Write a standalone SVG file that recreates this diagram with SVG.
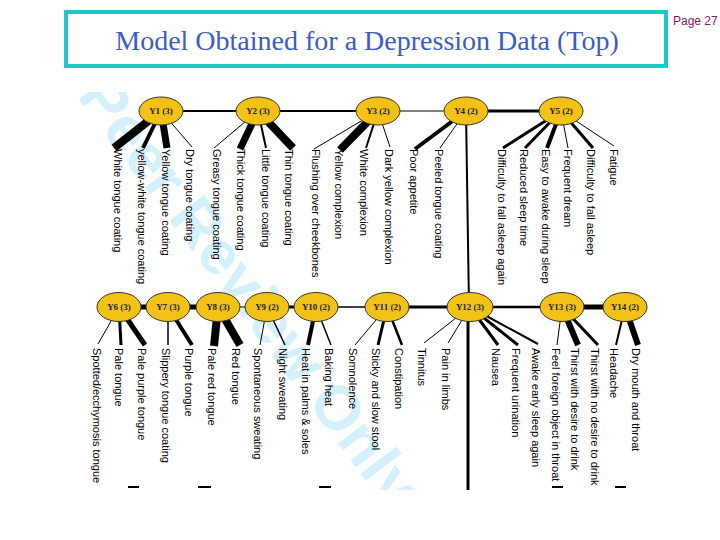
<svg xmlns="http://www.w3.org/2000/svg" width="720" height="540" viewBox="0 0 720 540">
<style>
.title{font-family:"Liberation Serif","Times New Roman","DejaVu Serif",serif;font-size:28px;fill:#3b5cc4}
.page{font-family:"Liberation Sans",Arial,sans-serif;font-size:12px;fill:#8b1a6b}
.node ellipse{fill:#f2c316;stroke:#333;stroke-width:1}
.node text{font-family:"Liberation Serif","Times New Roman","DejaVu Serif",serif;font-weight:bold;font-size:9px;fill:#222;text-anchor:middle}
.lbl{font-family:"Liberation Sans",Arial,sans-serif;font-size:11px;fill:#000}
.e{stroke:#000;fill:none;stroke-linecap:butt}
.wm{font-family:"Liberation Sans",Arial,sans-serif;font-weight:bold;font-size:62px;fill:#d3f0fc}
</style>
<defs>
<clipPath id="clip"><rect x="80" y="92" width="570" height="398"/></clipPath>
</defs>
<rect width="720" height="540" fill="#fff"/>
<rect x="66" y="12" width="600" height="54" fill="#fff" stroke="#1ec8c8" stroke-width="4"/>
<text class="title" x="367" y="50" text-anchor="middle">Model Obtained for a Depression Data (Top)</text>
<text class="page" x="673" y="25">Page 27</text>

<g clip-path="url(#clip)">
<text class="wm" transform="translate(76,96) rotate(53)">Peer Review Only</text>
</g>

<g id="connectors">
<line class="e" x1="161" y1="111" x2="258" y2="111" stroke-width="2"/>
<line class="e" x1="258" y1="111" x2="378" y2="111" stroke-width="2"/>
<line class="e" x1="378" y1="111" x2="466" y2="111" stroke-width="1"/>
<line class="e" x1="466" y1="111" x2="561" y2="111" stroke-width="3"/>
<line class="e" x1="466" y1="111" x2="469" y2="307" stroke-width="2"/>
<line class="e" x1="119" y1="307" x2="168" y2="307" stroke-width="5"/>
<line class="e" x1="168" y1="307" x2="218" y2="307" stroke-width="5"/>
<line class="e" x1="218" y1="307" x2="267" y2="307" stroke-width="1"/>
<line class="e" x1="267" y1="307" x2="316" y2="307" stroke-width="3"/>
<line class="e" x1="316" y1="307" x2="387" y2="307" stroke-width="1.5"/>
<line class="e" x1="387" y1="307" x2="470" y2="307" stroke-width="3"/>
<line class="e" x1="470" y1="307" x2="562" y2="307" stroke-width="2.5"/>
<line class="e" x1="562" y1="307" x2="625" y2="307" stroke-width="5"/>
<line class="e" x1="468" y1="307" x2="468" y2="490" stroke-width="3"/>
<line class="e" x1="128" y1="487" x2="139" y2="487" stroke-width="2"/>
<line class="e" x1="198" y1="487" x2="211" y2="487" stroke-width="2"/>
<line class="e" x1="319" y1="487" x2="331" y2="487" stroke-width="2"/>
<line class="e" x1="552" y1="487" x2="563" y2="487" stroke-width="2"/>
<line class="e" x1="615" y1="487" x2="626" y2="487" stroke-width="2"/>
<line class="e" x1="161" y1="111" x2="114" y2="148" stroke-width="8"/>
<line class="e" x1="161" y1="111" x2="143" y2="148" stroke-width="4"/>
<line class="e" x1="161" y1="111" x2="167" y2="148" stroke-width="7"/>
<line class="e" x1="161" y1="111" x2="192" y2="147" stroke-width="1"/>
<line class="e" x1="258" y1="111" x2="214" y2="148" stroke-width="1"/>
<line class="e" x1="258" y1="111" x2="240" y2="149" stroke-width="7"/>
<line class="e" x1="258" y1="111" x2="266" y2="148" stroke-width="2"/>
<line class="e" x1="258" y1="111" x2="293" y2="148" stroke-width="8"/>
<line class="e" x1="378" y1="111" x2="314" y2="149" stroke-width="1"/>
<line class="e" x1="378" y1="111" x2="340" y2="150" stroke-width="8"/>
<line class="e" x1="378" y1="111" x2="366" y2="148" stroke-width="2"/>
<line class="e" x1="378" y1="111" x2="390" y2="147" stroke-width="1"/>
<line class="e" x1="466" y1="111" x2="415" y2="149" stroke-width="4"/>
<line class="e" x1="466" y1="111" x2="440" y2="148" stroke-width="1"/>
<line class="e" x1="561" y1="111" x2="503" y2="148" stroke-width="3"/>
<line class="e" x1="561" y1="111" x2="525" y2="148" stroke-width="3"/>
<line class="e" x1="561" y1="111" x2="547" y2="148" stroke-width="4"/>
<line class="e" x1="561" y1="111" x2="568" y2="148" stroke-width="1"/>
<line class="e" x1="561" y1="111" x2="593" y2="148" stroke-width="3"/>
<line class="e" x1="561" y1="111" x2="614" y2="146" stroke-width="1"/>
<line class="e" x1="119" y1="307" x2="98" y2="344" stroke-width="1"/>
<line class="e" x1="119" y1="307" x2="121" y2="345" stroke-width="3"/>
<line class="e" x1="119" y1="307" x2="145" y2="345" stroke-width="5"/>
<line class="e" x1="168" y1="307" x2="168" y2="345" stroke-width="1.5"/>
<line class="e" x1="168" y1="307" x2="192" y2="345" stroke-width="4"/>
<line class="e" x1="218" y1="307" x2="214" y2="346" stroke-width="8"/>
<line class="e" x1="218" y1="307" x2="240" y2="345" stroke-width="8"/>
<line class="e" x1="267" y1="307" x2="260" y2="345" stroke-width="1"/>
<line class="e" x1="267" y1="307" x2="285" y2="345" stroke-width="1.5"/>
<line class="e" x1="316" y1="307" x2="308" y2="345" stroke-width="4"/>
<line class="e" x1="316" y1="307" x2="331" y2="345" stroke-width="1.5"/>
<line class="e" x1="387" y1="307" x2="355" y2="345" stroke-width="1"/>
<line class="e" x1="387" y1="307" x2="378" y2="345" stroke-width="3"/>
<line class="e" x1="387" y1="307" x2="402" y2="345" stroke-width="2.5"/>
<line class="e" x1="470" y1="307" x2="424" y2="343" stroke-width="1"/>
<line class="e" x1="470" y1="307" x2="448" y2="343" stroke-width="1"/>
<line class="e" x1="470" y1="307" x2="498" y2="345" stroke-width="3"/>
<line class="e" x1="470" y1="307" x2="518" y2="345" stroke-width="3"/>
<line class="e" x1="470" y1="307" x2="538" y2="344" stroke-width="2"/>
<line class="e" x1="562" y1="307" x2="557" y2="345" stroke-width="1"/>
<line class="e" x1="562" y1="307" x2="578" y2="345" stroke-width="6"/>
<line class="e" x1="562" y1="307" x2="598" y2="345" stroke-width="3"/>
<line class="e" x1="625" y1="307" x2="616" y2="345" stroke-width="2"/>
<line class="e" x1="625" y1="307" x2="638" y2="345" stroke-width="6"/>
</g>

<g id="labels">
<text class="lbl" transform="translate(114,149) rotate(90)">White tongue coating</text>
<text class="lbl" transform="translate(138,149) rotate(90)">yellow-white tongue coating</text>
<text class="lbl" transform="translate(162,149) rotate(90)">Yellow tongue coating</text>
<text class="lbl" transform="translate(186,149) rotate(90)">Dry tongue coating</text>
<text class="lbl" transform="translate(213,149) rotate(90)">Greasy tongue coating</text>
<text class="lbl" transform="translate(237,149) rotate(90)">Thick tongue coating</text>
<text class="lbl" transform="translate(262,149) rotate(90)">Little tongue coating</text>
<text class="lbl" transform="translate(285,149) rotate(90)">Thin tongue coating</text>
<text class="lbl" transform="translate(312,149) rotate(90)">Flushing over cheekbones</text>
<text class="lbl" transform="translate(335,149) rotate(90)">Yellow complexion</text>
<text class="lbl" transform="translate(360,149) rotate(90)">White complexion</text>
<text class="lbl" transform="translate(385,149) rotate(90)">Dark yellow complexion</text>
<text class="lbl" transform="translate(410,149) rotate(90)">Poor appetite</text>
<text class="lbl" transform="translate(435,149) rotate(90)">Peeled tongue coating</text>
<text class="lbl" transform="translate(498,149) rotate(90)">Difficulty to fall asleep again</text>
<text class="lbl" transform="translate(520,149) rotate(90)">Reduced sleep time</text>
<text class="lbl" transform="translate(542,149) rotate(90)">Easy to awake during sleep</text>
<text class="lbl" transform="translate(564,149) rotate(90)">Frequent dream</text>
<text class="lbl" transform="translate(587,149) rotate(90)">Difficulty to fall asleep</text>
<text class="lbl" transform="translate(610,149) rotate(90)">Fatigue</text>
<text class="lbl" transform="translate(93,348) rotate(90)">Spotted/ecchymosis tongue</text>
<text class="lbl" transform="translate(115,348) rotate(90)">Pale tongue</text>
<text class="lbl" transform="translate(138,348) rotate(90)">Pale purple tongue</text>
<text class="lbl" transform="translate(162,348) rotate(90)">Slippery tongue coating</text>
<text class="lbl" transform="translate(185,348) rotate(90)">Purple tongue</text>
<text class="lbl" transform="translate(208,348) rotate(90)">Pale red tongue</text>
<text class="lbl" transform="translate(232,348) rotate(90)">Red tongue</text>
<text class="lbl" transform="translate(254,348) rotate(90)">Spontaneous sweating</text>
<text class="lbl" transform="translate(279,348) rotate(90)">Night sweating</text>
<text class="lbl" transform="translate(302,348) rotate(90)">Heat in palms &amp; soles</text>
<text class="lbl" transform="translate(325,348) rotate(90)">Baking heat</text>
<text class="lbl" transform="translate(349,348) rotate(90)">Somnolence</text>
<text class="lbl" transform="translate(372,348) rotate(90)">Sticky and slow stool</text>
<text class="lbl" transform="translate(395,348) rotate(90)">Constipation</text>
<text class="lbl" transform="translate(418,348) rotate(90)">Tinnitus</text>
<text class="lbl" transform="translate(442,348) rotate(90)">Pain in limbs</text>
<text class="lbl" transform="translate(492,348) rotate(90)">Nausea</text>
<text class="lbl" transform="translate(512,348) rotate(90)">Frequent urination</text>
<text class="lbl" transform="translate(532,348) rotate(90)">Awake early sleep again</text>
<text class="lbl" transform="translate(552,348) rotate(90)">Feel foreign object in throat</text>
<text class="lbl" transform="translate(571,348) rotate(90)">Thirst with desire to drink</text>
<text class="lbl" transform="translate(591,348) rotate(90)">Thirst with no desire to drink</text>
<text class="lbl" transform="translate(610,348) rotate(90)">Headache</text>
<text class="lbl" transform="translate(632,348) rotate(90)">Dry mouth and throat</text>
</g>

<g id="Y1" class="node"><ellipse cx="161" cy="111" rx="22" ry="14"/><text x="161" y="114">Y1 (3)</text></g>
<g id="Y2" class="node"><ellipse cx="258" cy="111" rx="22" ry="14"/><text x="258" y="114">Y2 (3)</text></g>
<g id="Y3" class="node"><ellipse cx="378" cy="111" rx="22" ry="14"/><text x="378" y="114">Y3 (2)</text></g>
<g id="Y4" class="node"><ellipse cx="466" cy="111" rx="22" ry="14"/><text x="466" y="114">Y4 (2)</text></g>
<g id="Y5" class="node"><ellipse cx="561" cy="111" rx="22" ry="14"/><text x="561" y="114">Y5 (2)</text></g>
<g id="Y6" class="node"><ellipse cx="119" cy="307" rx="22" ry="14.5"/><text x="119" y="310">Y6 (3)</text></g>
<g id="Y7" class="node"><ellipse cx="168" cy="307" rx="22" ry="14.5"/><text x="168" y="310">Y7 (3)</text></g>
<g id="Y8" class="node"><ellipse cx="218" cy="307" rx="22" ry="14.5"/><text x="218" y="310">Y8 (3)</text></g>
<g id="Y9" class="node"><ellipse cx="267" cy="307" rx="22" ry="14.5"/><text x="267" y="310">Y9 (2)</text></g>
<g id="Y10" class="node"><ellipse cx="316" cy="307" rx="22" ry="14.5"/><text x="316" y="310">Y10 (2)</text></g>
<g id="Y11" class="node"><ellipse cx="387" cy="307" rx="22" ry="14.5"/><text x="387" y="310">Y11 (2)</text></g>
<g id="Y12" class="node"><ellipse cx="470" cy="307" rx="23" ry="14.5"/><text x="470" y="310">Y12 (3)</text></g>
<g id="Y13" class="node"><ellipse cx="562" cy="307" rx="22" ry="14.5"/><text x="562" y="310">Y13 (3)</text></g>
<g id="Y14" class="node"><ellipse cx="625" cy="307" rx="22" ry="14.5"/><text x="625" y="310">Y14 (2)</text></g>
</svg>
